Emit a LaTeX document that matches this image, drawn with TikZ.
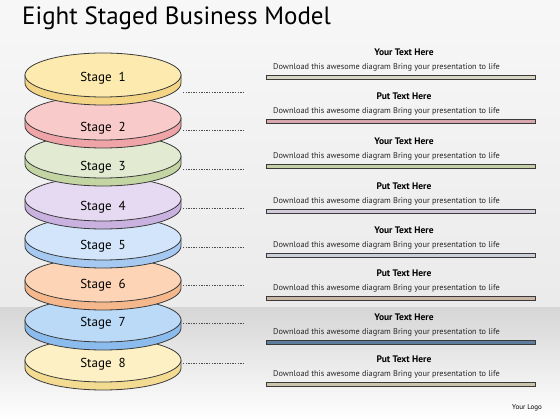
\documentclass[tikz,border=0pt]{standalone}
\usepackage{fontspec}
\setmainfont{PT Sans}
\definecolor{rim}{HTML}{3A3A3A}
\definecolor{faceA}{HTML}{FCEAAE}\definecolor{sideA}{HTML}{F3D585}
\definecolor{faceB}{HTML}{F8CACA}\definecolor{sideB}{HTML}{EFA4A8}
\definecolor{faceC}{HTML}{E2EAD2}\definecolor{sideC}{HTML}{C4D5A4}
\definecolor{faceD}{HTML}{E6DAF2}\definecolor{sideD}{HTML}{C9B2E0}
\definecolor{faceE}{HTML}{D2E5FB}\definecolor{sideE}{HTML}{A6C9F2}
\definecolor{faceF}{HTML}{FDD5B6}\definecolor{sideF}{HTML}{F4B88C}
\definecolor{faceG}{HTML}{BBDAF8}\definecolor{sideG}{HTML}{8CBCEE}
\definecolor{faceH}{HTML}{FDF0C4}\definecolor{sideH}{HTML}{F3DB92}
\definecolor{barA}{HTML}{D9D5C3}\definecolor{barB}{HTML}{D8A7AE}
\definecolor{barC}{HTML}{C4CFA8}\definecolor{barD}{HTML}{D2CCDA}
\definecolor{barE}{HTML}{CACFD9}\definecolor{barF}{HTML}{C9B6A4}
\definecolor{barG}{HTML}{5E7C9C}\definecolor{barH}{HTML}{CBC3AC}
\newcommand{\stagedisc}[5]{%
  \fill[#4, draw=rim, line width=0.8pt] (25,#2) -- (25,{#2-8}) arc[start angle=180, end angle=360, x radius=78, y radius=22] -- (181,#2) -- cycle;
  \filldraw[fill=#3, draw=rim, line width=0.8pt] (103,#2) ellipse[x radius=78, y radius=22];
  \node[stagetext] (stage#1) at (103,#5) {Stage~~#1};
}

\begin{document}
\begin{tikzpicture}[x=1pt,y=1pt,
  stagetext/.style={font=\fontsize{13}{15}\selectfont, text=black},
  headtext/.style={font=\fontsize{9.5}{11}\selectfont\bfseries, text=black},
  desctext/.style={font=\fontsize{8.3}{9}\selectfont, text=black!85, anchor=west, inner sep=0pt},
  leader/.style={draw=black!70, line width=0.6pt, dash pattern=on 1.3pt off 1.3pt},
  bar/.style={draw=rim, line width=1pt}]
\useasboundingbox (0,0) rectangle (560,420);
\shade[top color=black!3, bottom color=black!8] (0,112) rectangle (560,420);
\shade[top color=black!16, bottom color=white] (0,0) rectangle (560,112);
\node[font=\fontsize{25}{29}\selectfont, anchor=west, inner sep=0pt] (title) at (22,402) {Eight Staged Business Model};
\stagedisc{8}{60}{faceH}{sideH}{56}
\stagedisc{7}{100}{faceG}{sideG}{97}
\stagedisc{6}{140}{faceF}{sideF}{135}
\stagedisc{5}{182}{faceE}{sideE}{174}
\stagedisc{4}{221}{faceD}{sideD}{213}
\stagedisc{3}{264}{faceC}{sideC}{253}
\stagedisc{2}{302}{faceB}{sideB}{292}
\stagedisc{1}{345}{faceA}{sideA}{342}
\coordinate (s1) at (183,328); \coordinate (t1) at (243,328);
\coordinate (s2) at (183,290); \coordinate (t2) at (243,290);
\coordinate (s3) at (183,251); \coordinate (t3) at (243,251);
\coordinate (s4) at (183,212); \coordinate (t4) at (243,212);
\coordinate (s5) at (183,173); \coordinate (t5) at (243,173);
\coordinate (s6) at (183,135); \coordinate (t6) at (243,135);
\coordinate (s7) at (183,97); \coordinate (t7) at (243,97);
\coordinate (s8) at (183,57); \coordinate (t8) at (243,57);
\draw[leader] (s1) -- (t1);
\draw[leader] (s2) -- (t2);
\draw[leader] (s3) -- (t3);
\draw[leader] (s4) -- (t4);
\draw[leader] (s5) -- (t5);
\draw[leader] (s6) -- (t6);
\draw[leader] (s7) -- (t7);
\draw[leader] (s8) -- (t8);
\node[headtext] (head1) at (404,368) {Your Text Here};
\node[headtext] (head2) at (404,324) {Put Text Here};
\node[headtext] (head3) at (404,279) {Your Text Here};
\node[headtext] (head4) at (404,234) {Put Text Here};
\node[headtext] (head5) at (404,190) {Your Text Here};
\node[headtext] (head6) at (404,147) {Put Text Here};
\node[headtext] (head7) at (404,103) {Your Text Here};
\node[headtext] (head8) at (404,61) {Put Text Here};
\node[desctext] (desc1) at (273,353) {Download this awesome diagram Bring your presentation to life};
\node[desctext] (desc2) at (273,309) {Download this awesome diagram Bring your presentation to life};
\node[desctext] (desc3) at (273,264) {Download this awesome diagram Bring your presentation to life};
\node[desctext] (desc4) at (273,219) {Download this awesome diagram Bring your presentation to life};
\node[desctext] (desc5) at (273,175) {Download this awesome diagram Bring your presentation to life};
\node[desctext] (desc6) at (273,132) {Download this awesome diagram Bring your presentation to life};
\node[desctext] (desc7) at (273,88) {Download this awesome diagram Bring your presentation to life};
\node[desctext] (desc8) at (273,46) {Download this awesome diagram Bring your presentation to life};
\filldraw[bar, fill=barA] (266,340) rectangle (535,344);
\filldraw[bar, fill=barB] (266,296) rectangle (535,300);
\filldraw[bar, fill=barC] (266,251) rectangle (535,255);
\filldraw[bar, fill=barD] (266,206) rectangle (535,210);
\filldraw[bar, fill=barE] (266,162) rectangle (535,166);
\filldraw[bar, fill=barF] (266,119) rectangle (535,123);
\filldraw[bar, fill=barG] (266,75) rectangle (535,79);
\filldraw[bar, fill=barH] (266,33) rectangle (535,37);
\node[font=\fontsize{7}{8}\selectfont] (logo) at (527,12) {Your Logo};
\end{tikzpicture}
\end{document}
